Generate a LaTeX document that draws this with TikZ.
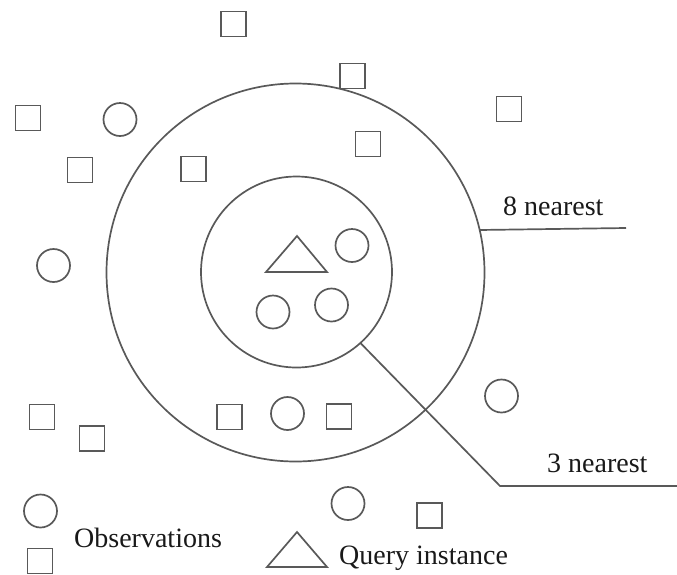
\documentclass[tikz,border=0pt]{standalone}
\usepackage{fontspec}
\setmainfont{Liberation Serif}
\begin{document}
\begin{tikzpicture}[x=1pt,y=-1pt,
  ln/.style={draw=black!65,line width=1.7pt},
  obs/.style={ln,circle,minimum size=33pt,inner sep=0pt,outer sep=0pt},
  sq/.style={ln,rectangle,minimum size=25pt,inner sep=0pt,outer sep=0pt},
  ring/.style={ln,circle,inner sep=0pt,outer sep=0pt},
  lab/.style={inner sep=0pt,anchor=base west,font=\fontsize{28}{30}\selectfont,text=black!90}]
\useasboundingbox (0,0) rectangle (677,574);
% rings
\node[ring,minimum size=378pt] (outer) at (295.5,272.5) {};
\node[ring,minimum size=191pt] (inner) at (296.5,272) {};
% squares
\node[sq] (s1) at (233.5,24) {};
\node[sq] (s2) at (352.5,76) {};
\node[sq] (s3) at (509,109) {};
\node[sq] (s4) at (28,118) {};
\node[sq] (s5) at (80,170) {};
\node[sq] (s6) at (193.5,169) {};
\node[sq] (s7) at (368,144) {};
\node[sq] (s8) at (42,417) {};
\node[sq] (s9) at (92,438.5) {};
\node[sq] (s10) at (229.5,417) {};
\node[sq] (s11) at (339,416.5) {};
\node[sq] (s12) at (429.5,515.5) {};
\node[sq] (s13) at (40,561) {};
% circles
\node[obs] (c1) at (120,119.5) {};
\node[obs] (c2) at (53.5,265.5) {};
\node[obs] (c3) at (352,245.5) {};
\node[obs] (c4) at (273,312) {};
\node[obs] (c5) at (331.5,305) {};
\node[obs] (c6) at (287.5,413.5) {};
\node[obs] (c7) at (501.5,396) {};
\node[obs] (c8) at (348,503.5) {};
\node[obs] (c9) at (40.5,511) {};
% triangles
\coordinate (qa) at (297,236);
\draw[ln,line join=miter] (qa) -- (266,272) -- (327,272) -- cycle;
\coordinate (la) at (297,532);
\draw[ln,line join=miter] (la) -- (267,567) -- (327,567) -- cycle;
% labels
\node[lab] (t8) at (503,215) {8 nearest};
\node[lab] (t3) at (547,472) {3 nearest};
\node[lab] (tobs) at (74,547) {Observations};
\node[lab] (tq) at (339,564) {Query instance};
% leader lines
\coordinate (e8) at (626,228);
\draw[ln] (outer.13.5) -- (e8);
\coordinate (k3) at (500,486);
\coordinate (e3) at (677,486);
\draw[ln] (inner.-48.4) -- (k3) -- (e3);
\end{tikzpicture}
\end{document}
